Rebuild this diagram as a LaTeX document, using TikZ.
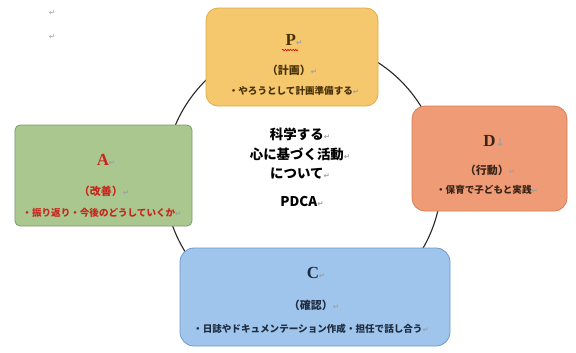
\documentclass[tikz,border=0pt]{standalone}
\usepackage{fontspec}
\usetikzlibrary{decorations.pathmorphing}
\setmainfont{Liberation Serif}
\newfontfamily\jp{Noto Sans CJK JP}
\newfontfamily\djv{DejaVu Sans}
\newcommand\parmk{{\djv\color{gray!75}\fontsize{7.5}{8}\selectfont ↵}}
\newcommand\brkmk{{\djv\color{gray!75}\fontsize{11}{12}\selectfont ↓}}
\definecolor{pfill}{HTML}{F5C86E}
\definecolor{pline}{HTML}{E2AA48}
\definecolor{afill}{HTML}{A9C78F}
\definecolor{aline}{HTML}{7F9C6E}
\definecolor{dfill}{HTML}{EF9C76}
\definecolor{dline}{HTML}{D97D55}
\definecolor{cfill}{HTML}{A0C5EC}
\definecolor{cline}{HTML}{6F9ACB}
\definecolor{ptext}{HTML}{4A3208}
\definecolor{atext}{HTML}{C8261C}
\definecolor{dtext}{HTML}{3A2418}
\definecolor{ctext}{HTML}{1E2C40}
\begin{document}
\begin{tikzpicture}[x=1bp,y=-1bp,
  box/.style={draw, line width=0.8pt, minimum width=#1, inner sep=0pt},
  big/.style={inner sep=0pt, font=\bfseries\fontsize{17}{18}\selectfont},
  mid/.style={inner sep=0pt, font=\jp\bfseries\fontsize{11}{12}\selectfont},
  small/.style={inner sep=0pt, font=\jp\bfseries\fontsize{9.6}{11}\selectfont},
  ctr/.style={inner sep=0pt, font=\jp\bfseries\fontsize{13.5}{15}\selectfont}]
\useasboundingbox (0,0) rectangle (576,352);
\fill[white] (0,0) rectangle (576,352);
% stray paragraph marks
\node[inner sep=0pt] (m1) at (52,13) {\parmk};
\node[inner sep=0pt] (m2) at (52,37) {\parmk};
% cycle circle
\draw[line width=1.1pt, black!85] (303,179) circle[radius=138.5bp];
% boxes
\node[box=172bp, minimum height=98bp, fill=pfill, draw=pline, rounded corners=12bp] (P) at (292,57) {};
\node[box=177bp, minimum height=101bp, fill=afill, draw=aline, rounded corners=5bp] (A) at (103.5,175.5) {};
\node[box=155bp, minimum height=105bp, fill=dfill, draw=dline, rounded corners=13bp] (D) at (489.5,158.5) {};
\node[box=270bp, minimum height=98bp, fill=cfill, draw=cline, rounded corners=14bp] (C) at (315,297) {};
% P texts
\node[big, text=ptext] (p1) at (294,40) {P\parmk};
\draw[red!85!black, line width=0.6pt, decorate, decoration={snake, amplitude=0.7pt, segment length=2.6pt}] (282,50) -- (298,50);
\node[mid, text=ptext] (p2) at (292,70) {（計画）\parmk};
\node[small, text=ptext] (p3) at (294,91) {・やろうとして計画準備する\parmk};
% A texts
\node[big, text=atext] (a1) at (106,160) {A\parmk};
\node[mid, text=atext] (a2) at (104,191) {（改善）\parmk};
\node[small, text=atext] (a3) at (102,213) {・振り返り・今後のどうしていくか\parmk};
% D texts
\node[big, text=dtext] (d1) at (494,141) {D\brkmk};
\node[mid, text=dtext] (d2) at (490,170) {（行動）\parmk};
\node[small, text=dtext] (d3) at (487,190) {・保育で子どもと実践\parmk};
% C texts
\node[big, text=ctext] (c1) at (316,273) {C\parmk};
\node[mid, text=ctext] (c2) at (314,305) {（確認）\parmk};
\node[small, text=ctext] (c3) at (311,329) {・日誌やドキュメンテーション作成・担任で話し合う\parmk};
% centre texts
\node[ctr] (t1) at (300,134) {科学する\parmk};
\node[ctr] (t2) at (300,154) {心に基づく活動\parmk};
\node[ctr] (t3) at (300,174) {について\parmk};
\node[ctr] (t4) at (302,201) {PDCA\parmk};
\end{tikzpicture}
\end{document}
